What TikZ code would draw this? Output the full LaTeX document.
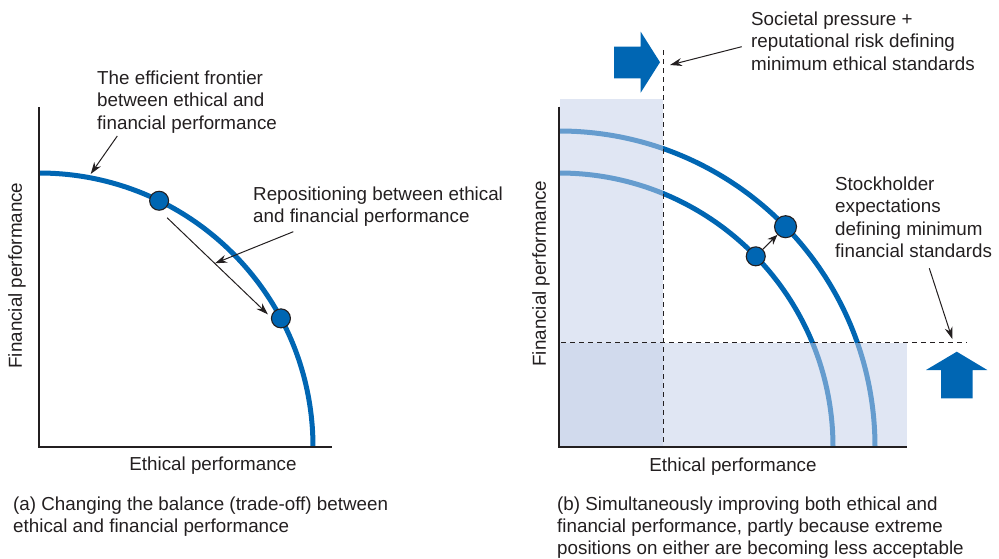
\documentclass[tikz,border=0pt]{standalone}
\usepackage{fontspec}
\setmainfont{Liberation Sans}
\usetikzlibrary{arrows.meta,calc}
\definecolor{pblue}{RGB}{0,102,179}
\definecolor{shade}{RGB}{195,207,232}
\definecolor{ink}{RGB}{35,31,32}
\begin{document}
\begin{tikzpicture}[x=1pt,y=-1pt,
  txt/.style={font=\fontsize{18.8}{22.5}\selectfont, text=ink, align=left, inner sep=0pt, anchor=north west},
  captxt/.style={txt, font=\fontsize{18.8}{22}\selectfont},
  axlabel/.style={font=\fontsize{18.8}{22.5}\selectfont, text=ink, inner sep=0pt, anchor=center},
  axis/.style={draw=ink, line width=2.6pt},
  frontier/.style={draw=pblue, line width=5pt},
  dot/.style={circle, fill=pblue, draw=ink, line width=1.1pt, inner sep=0pt, minimum size=19pt},
  bigdot/.style={dot, minimum size=22pt},
  pointer/.style={draw=ink, line width=1pt, -{Stealth[length=12pt,width=8pt]}},
  guide/.style={draw=ink, line width=1.2pt, dash pattern=on 5pt off 4pt},
  zone/.style={fill=shade, fill opacity=0.52},
  blockarrow/.style={fill=pblue}
]
\useasboundingbox (0,0) rectangle (999,558);

% ---------------- Panel (a) ----------------
\coordinate (oa) at (39,447);
\draw[frontier] (39,173) arc[start angle=-90, end angle=0, radius=274];
\draw[axis] (39,107) -- (oa) -- (332,447);
\node[dot] (p1) at ($(oa)+(-64:274)$) {};
\node[dot] (p2) at ($(oa)+(-28:274)$) {};
\draw[pointer] ($(p1)+(8,17)$) -- ($(p2)+(-13,-4)$);

\node[txt] (effl) at (97,70.3) {The efficient frontier\\between ethical and\\financial performance};
\coordinate (efft) at (90.7,174);
\draw[pointer] (117.3,136) -- (efft);

\node[txt] (repl) at (253,186.3) {Repositioning between ethical\\and financial performance};
\coordinate (rept) at (215,263.3);
\draw[pointer] (293.3,231.7) -- (rept);

\node[axlabel, rotate=90] (yla) at (17,275.5) {Financial performance};
\node[axlabel] (xla) at (213,466) {Ethical performance};

\node[captxt] (capa) at (13,496.3) {(a) Changing the balance (trade-off) between\\ethical and financial performance};

% ---------------- Panel (b) ----------------
\coordinate (ob) at (559,447);
\draw[frontier] (559,173) arc[start angle=-90, end angle=0, radius=274];
\draw[frontier] (559,131) arc[start angle=-90, end angle=0, radius=316];
\fill[zone] (560,99) rectangle (663.3,446.7);
\fill[zone] (560,342.7) rectangle (906.7,446.7);
\draw[axis] (559,106.7) -- (ob) -- (906.7,447);
\draw[guide] (663.3,50) -- (663.3,446);
\draw[guide] (561,342.7) -- (966.7,342.7);

\node[dot] (q1) at ($(ob)+(-44.1:274)$) {};
\node[bigdot] (q2) at ($(ob)+(-44.2:316)$) {};
\draw[draw=ink, line width=1pt, -{Stealth[length=10pt,width=8pt]}] (q1) -- (q2);

\fill[blockarrow] (614,46.7) -- (640.7,46.7) -- (640.7,31.7) -- (660,62.2) -- (640.7,92.7) -- (640.7,78.3) -- (614,78.3) -- cycle;
\fill[blockarrow] (941,398.3) -- (941,370) -- (926,370) -- (956.8,351.7) -- (987.3,370) -- (972.7,370) -- (972.7,398.3) -- cycle;

\node[txt] (socl) at (751,11.3) {Societal pressure +\\reputational risk defining\\minimum ethical standards};
\coordinate (soct) at (670,65);
\draw[pointer] (741.7,46.7) -- (soct);

\node[txt] (stkl) at (835,176.3) {Stockholder\\expectations\\defining minimum\\financial standards};
\coordinate (stkt) at (952.3,339);
\draw[pointer] (929.3,268.3) -- (stkt);

\node[axlabel, rotate=90] (ylb) at (541,273.5) {Financial performance};
\node[axlabel] (xlb) at (733,467) {Ethical performance};

\node[captxt] (capb) at (557,496.3) {(b) Simultaneously improving both ethical and\\financial performance, partly because extreme\\positions on either are becoming less acceptable};
\end{tikzpicture}
\end{document}
